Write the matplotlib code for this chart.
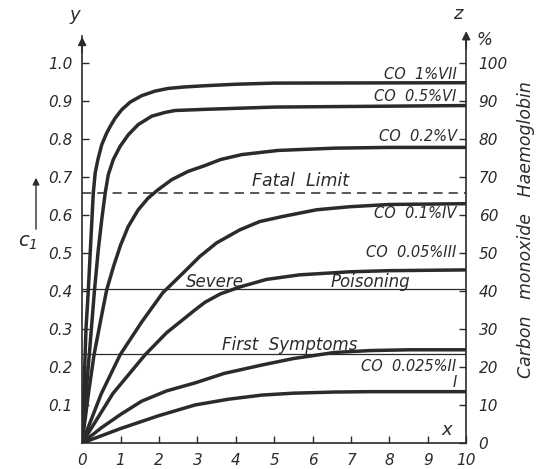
import matplotlib
matplotlib.use("Agg")
import matplotlib.pyplot as plt

# curve points (x = time, y = saturation fraction)
x_vii = [0, 0.05, 0.1, 0.16, 0.21, 0.29, 0.34, 0.41, 0.51, 0.64, 0.73, 0.86, 1.03, 1.25,
         1.55, 1.9, 2.24, 2.68, 3.19, 4, 5, 10]
y_vii = [0, 0.15, 0.3, 0.4, 0.5, 0.657, 0.71, 0.745, 0.784, 0.815, 0.832, 0.854, 0.876, 0.896,
         0.913, 0.925, 0.932, 0.936, 0.939, 0.943, 0.946, 0.947]
x_vi = [0, 0.1, 0.2, 0.32, 0.42, 0.51, 0.6, 0.68, 0.81, 0.99, 1.2, 1.46, 1.81, 2.16,
        2.42, 3.19, 5, 10]
y_vi = [0, 0.13, 0.25, 0.4, 0.508, 0.587, 0.657, 0.705, 0.745, 0.78, 0.81, 0.837, 0.859, 0.869,
        0.874, 0.877, 0.883, 0.887]
x_v = [0, 0.15, 0.31, 0.47, 0.64, 0.82, 1.0, 1.2, 1.46, 1.72, 1.98, 2.33, 2.76, 3.19,
       3.6, 4.15, 5.1, 6.57, 8, 10]
y_v = [0, 0.12, 0.232, 0.316, 0.403, 0.465, 0.52, 0.569, 0.613, 0.644, 0.666, 0.692, 0.714, 0.729,
       0.745, 0.758, 0.769, 0.775, 0.777, 0.777]
x_iv = [0, 0.5, 0.99, 1.55, 2.1, 2.63, 3.06, 3.5, 4.1, 4.62, 5.2, 6.1, 6.96, 8, 10]
y_iv = [0, 0.13, 0.232, 0.318, 0.395, 0.447, 0.49, 0.526, 0.56, 0.582, 0.595, 0.613, 0.621,
        0.627, 0.629]
x_iii = [0, 0.8, 1.64, 2.2, 2.62, 2.94, 3.2, 3.6, 4.1, 4.8, 5.66, 6.96, 8, 10]
y_iii = [0, 0.13, 0.232, 0.29, 0.324, 0.35, 0.37, 0.392, 0.41, 0.43, 0.442, 0.45, 0.453, 0.455]
x_ii = [0, 0.5, 1, 1.55, 2.2, 2.94, 3.7, 4.68, 5.5, 6.57, 7.5, 8.5, 10]
y_ii = [0, 0.04, 0.075, 0.11, 0.137, 0.158, 0.183, 0.205, 0.222, 0.238, 0.243, 0.245, 0.245]
x_i = [0, 1, 2, 2.94, 3.8, 4.68, 5.5, 6.57, 7.5, 10]
y_i = [0, 0.038, 0.072, 0.1, 0.115, 0.126, 0.131, 0.134, 0.135, 0.135]

curve_labels = ["CO  1%VII", "CO  0.5%VI", "CO  0.2%V", "CO  0.1%IV",
                "CO  0.05%III", "CO  0.025%II", "I"]
label_y = [0.968, 0.91, 0.805, 0.603, 0.5, 0.2, 0.16]

fatal_limit = 0.658
severe_poisoning = 0.405
first_symptoms = 0.234

x_ticks = list(range(0, 11))
y_ticks = [0.1, 0.2, 0.3, 0.4, 0.5, 0.6, 0.7, 0.8, 0.9, 1.0]
y_tick_labels = ["0.1", "0.2", "0.3", "0.4", "0.5", "0.6", "0.7", "0.8", "0.9", "1.0"]
z_ticks = list(range(0, 101, 10))

ink = "#2b2b2b"
plt.rcParams["font.family"] = "DejaVu Sans"
plt.rcParams["font.style"] = "italic"

fig = plt.figure(figsize=(5.44, 4.69), dpi=100)
ax = fig.add_axes([0.151, 0.0554, 0.706, 0.868])
ax.set_xlim(0, 10)
ax.set_ylim(0, 1.07)

for xs, ys in [(x_vii, y_vii), (x_vi, y_vi), (x_v, y_v), (x_iv, y_iv),
               (x_iii, y_iii), (x_ii, y_ii), (x_i, y_i)]:
    ax.plot(xs, ys, color=ink, lw=2.5, solid_joinstyle="round", solid_capstyle="round")

ax.axhline(fatal_limit, color=ink, lw=1.1, ls=(0, (6, 4)))
ax.axhline(severe_poisoning, color=ink, lw=0.9)
ax.axhline(first_symptoms, color=ink, lw=0.9)

for lab, ly in zip(curve_labels, label_y):
    ax.text(9.75, ly, lab, ha="right", va="center", fontsize=10.5, color=ink)

ax.text(5.7, 0.69, "Fatal  Limit", ha="center", va="center", fontsize=12.5, color=ink)
ax.text(3.45, 0.422, "Severe", ha="center", va="center", fontsize=12, color=ink)
ax.text(7.5, 0.422, "Poisoning", ha="center", va="center", fontsize=12, color=ink)
ax.text(5.4, 0.258, "First  Symptoms", ha="center", va="center", fontsize=12, color=ink)
ax.text(9.5, 0.034, "x", ha="center", va="center", fontsize=13, color=ink)

ax.spines["top"].set_visible(False)
for side in ["left", "right", "bottom"]:
    ax.spines[side].set_color(ink)
    ax.spines[side].set_linewidth(1.2)

ax.set_xticks(x_ticks)
ax.set_xticklabels([str(v) for v in x_ticks], fontsize=11, color=ink)
ax.set_yticks(y_ticks)
ax.set_yticklabels(y_tick_labels, fontsize=11, color=ink)
ax.tick_params(direction="in", length=5, width=1, color=ink, pad=7)

az = ax.twinx()
az.set_ylim(0, 107)
az.set_yticks(z_ticks)
az.set_yticklabels([str(v) for v in z_ticks], fontsize=11, color=ink)
az.tick_params(direction="in", length=5, width=1, color=ink, pad=9)
for side in ["top", "left", "bottom", "right"]:
    az.spines[side].set_visible(False)

# arrow heads on the vertical axes
ax.annotate("", xy=(0, 1.075), xytext=(0, 1.02),
            arrowprops=dict(arrowstyle="-|>", color=ink, lw=1.2, mutation_scale=12),
            annotation_clip=False)
ax.annotate("", xy=(10, 1.09), xytext=(10, 1.03),
            arrowprops=dict(arrowstyle="-|>", color=ink, lw=1.2, mutation_scale=12),
            annotation_clip=False)

fig.text(75 / 544, 1 - 15 / 469, "y", ha="center", va="center", fontsize=13, color=ink)
fig.text(458 / 544, 1 - 14 / 469, "z", ha="center", va="center", fontsize=13, color=ink)
fig.text(484 / 544, 1 - 40 / 469, "%", ha="center", va="center", fontsize=12, color=ink)
fig.text(28 / 544, 1 - 242 / 469, r"$c_1$", ha="center", va="center", fontsize=14, color=ink)
fig.add_artist(matplotlib.patches.FancyArrowPatch(
    (36 / 544, 1 - 232 / 469), (36 / 544, 1 - 175 / 469),
    transform=fig.transFigure, arrowstyle="-|>", mutation_scale=10, color=ink, lw=1))
fig.text(526 / 544, 1 - 230 / 469, "Carbon   monoxide   Haemoglobin", rotation=90,
         ha="center", va="center", fontsize=12.5, color=ink)

fig.savefig("out.png", dpi=100, facecolor="white")
